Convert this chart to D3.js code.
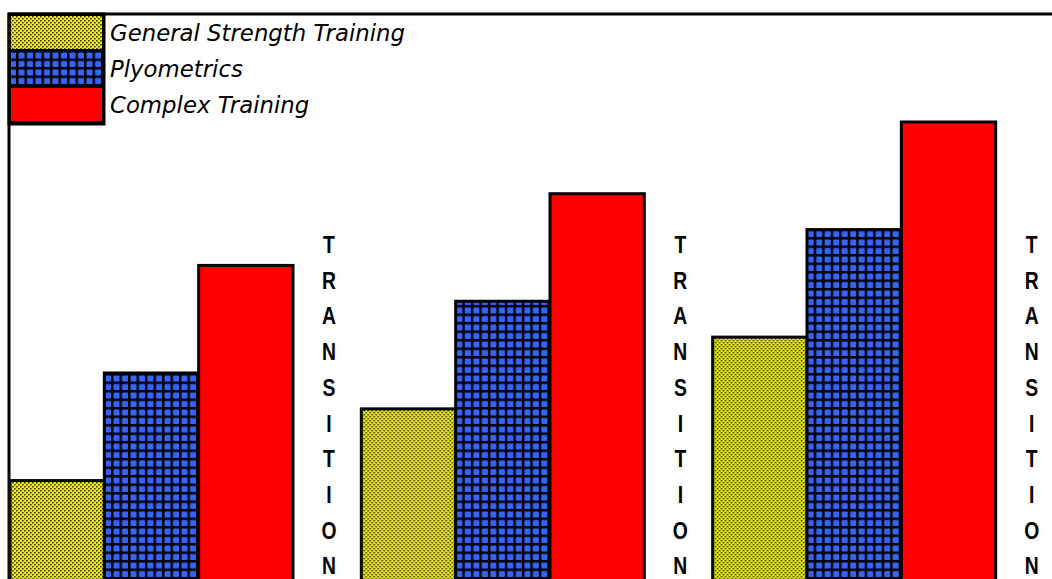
<!DOCTYPE html>
<html>
<head>
<meta charset="utf-8">
<script src="https://cdn.jsdelivr.net/npm/d3@7"></script>
<style>
  html, body { margin: 0; padding: 0; background: #fff; overflow: hidden; }
  svg { display: block; }
</style>
</head>
<body>
<svg id="chart" width="1052" height="579"></svg>
<script>
/* DATA */
var phases = ["Phase 1", "Phase 2", "Phase 3"];
var seriesNames = ["General Strength Training", "Plyometrics", "Complex Training"];
var strengthVals = [4, 6, 8];
var plyoVals = [7, 9, 11];
var complexVals = [10, 12, 14];
var transitionLabel = "TRANSITION";

var seriesVals = [strengthVals, plyoVals, complexVals];
var fills = ["url(#dots)", "url(#grid)", "#ff0000"];

var svg = d3.select("#chart");

/* PATTERNS */
var defs = svg.append("defs");
var dots = defs.append("pattern").attr("id", "dots")
    .attr("patternUnits", "userSpaceOnUse").attr("width", 4).attr("height", 4);
dots.append("rect").attr("width", 4).attr("height", 4).attr("fill", "#f0f000");
dots.append("rect").attr("x", 0).attr("y", 0).attr("width", 1.7).attr("height", 1.5).attr("fill", "#3c3c00");
dots.append("rect").attr("x", 2).attr("y", 2).attr("width", 1.7).attr("height", 1.5).attr("fill", "#3c3c00");

var grid = defs.append("pattern").attr("id", "grid")
    .attr("patternUnits", "userSpaceOnUse").attr("width", 8.5).attr("height", 8.5);
grid.append("rect").attr("width", 8.5).attr("height", 8.5).attr("fill", "#000");
grid.append("rect").attr("x", 1.5).attr("y", 1.5).attr("width", 6).attr("height", 6).attr("fill", "#3366ff");

/* SCALES */
var x = d3.scaleBand().domain(phases).range([10, 1064]);
var xs = d3.scaleBand().domain(seriesNames).range([0, 283]);
var y = d3.scaleLinear().domain([0, 14]).range([624, 122]);

/* BARS */
var groups = svg.selectAll(".grp").data(phases).enter().append("g")
    .attr("class", "grp")
    .attr("transform", function(d) { return "translate(" + x(d) + ",0)"; });

groups.selectAll("rect")
    .data(function(d, i) {
      return seriesNames.map(function(s, j) { return { s: s, v: seriesVals[j][i], j: j }; });
    })
    .enter().append("rect")
    .attr("x", function(d) { return xs(d.s); })
    .attr("y", function(d) { return y(d.v); })
    .attr("width", xs.bandwidth())
    .attr("height", function(d) { return y(0) - y(d.v); })
    .attr("fill", function(d) { return fills[d.j]; })
    .attr("stroke", "#000")
    .attr("stroke-width", 3);

/* TRANSITION LABELS (slightly tall, narrow letters) */
groups.append("g").selectAll("text")
    .data(transitionLabel.split(""))
    .enter().append("text")
    .attr("transform", function(d, i) {
      return "translate(319," + (253 + i * 35.7) + ") scale(0.92,1.1)";
    })
    .attr("text-anchor", "middle")
    .attr("font-family", "Liberation Sans, Arial, sans-serif")
    .attr("font-weight", "bold")
    .attr("font-size", "21px")
    .attr("fill", "#000")
    .text(function(d) { return d; });

/* FRAME */
svg.append("line").attr("x1", 8).attr("x2", 1052).attr("y1", 14).attr("y2", 14)
    .attr("stroke", "#000").attr("stroke-width", 3);
svg.append("line").attr("x1", 9).attr("x2", 9).attr("y1", 13).attr("y2", 579)
    .attr("stroke", "#000").attr("stroke-width", 3);

/* LEGEND */
var legend = svg.append("g");
legend.append("rect").attr("x", 9).attr("y", 14).attr("width", 95).attr("height", 110)
    .attr("fill", "#000").attr("stroke", "#000").attr("stroke-width", 3);
var item = legend.selectAll(".item").data(seriesNames).enter().append("g").attr("class", "item");
item.append("rect")
    .attr("x", 11)
    .attr("y", function(d, i) { return 16 + i * 36; })
    .attr("width", 91)
    .attr("height", 33)
    .attr("fill", function(d, i) { return fills[i]; });
item.append("text")
    .attr("x", 110)
    .attr("y", function(d, i) { return 41 + i * 36; })
    .attr("font-family", "DejaVu Sans, sans-serif")
    .attr("font-style", "italic")
    .attr("font-size", "22.8px")
    .attr("fill", "#000")
    .text(function(d) { return d; });
</script>
</body>
</html>
